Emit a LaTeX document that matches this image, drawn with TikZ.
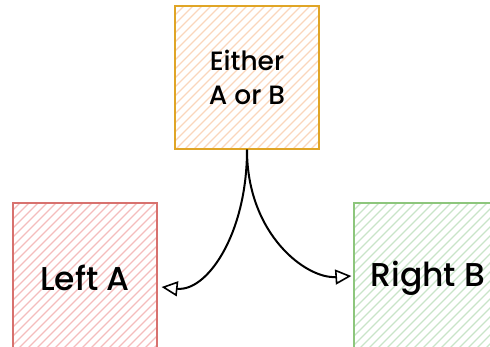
\documentclass[tikz,border=0pt]{standalone}
\usepackage{fontspec}
\setmainfont{Poppins}[UprightFont=* Medium]
\usetikzlibrary{arrows.meta}

\definecolor{orangeline}{HTML}{E0A526}
\definecolor{orangehatch}{HTML}{FAD6BC}
\definecolor{redline}{HTML}{D8726F}
\definecolor{redhatch}{HTML}{F4BDBD}
\definecolor{greenline}{HTML}{8DC67C}
\definecolor{greenhatch}{HTML}{C9E4C8}

\begin{document}
\begin{tikzpicture}[x=1pt, y=1pt,
    hatch/.style={path picture={
        \foreach \k in {-170,-161,...,170}
            \draw[#1, line width=1.2pt] ([xshift=\k pt]path picture bounding box.south west) -- ++(180,180);
    }},
    card/.style={draw=#1line, hatch=#1hatch, line width=1.3pt, inner sep=0pt, align=center},
    flow/.style={line width=2pt, -{Triangle[open, length=16pt, width=15pt, line width=1.6pt]}}
]

    \useasboundingbox (0,0) rectangle (490,346);
    \clip (0,0) rectangle (490,346);

    \node[card=orange, minimum width=144pt, minimum height=143pt, font=\fontsize{26.5}{34}\selectfont] (either) at (247, 268.5) {Either\\A or B};

    \node[card=red, minimum width=144pt, minimum height=150pt, font=\fontsize{33}{38}\selectfont] (left) at (85, 68) {Left A};
    \node[card=green, minimum width=148pt, minimum height=150pt, font=\fontsize{33}{38}\selectfont] (right) at (428, 68) {Right B};

    % where the two arrows stop, just off the boxes
    \coordinate (lefttip) at ([shift={(4,-9)}]left.east);
    \coordinate (righttip) at ([shift={(-2,2)}]right.west);

    \draw[flow] (either.south) .. controls +(0,-85) and +(45,-5) .. (lefttip);
    \draw[flow] (either.south) .. controls +(0,-85) and +(-45,-3) .. (righttip);

\end{tikzpicture}
\end{document}
